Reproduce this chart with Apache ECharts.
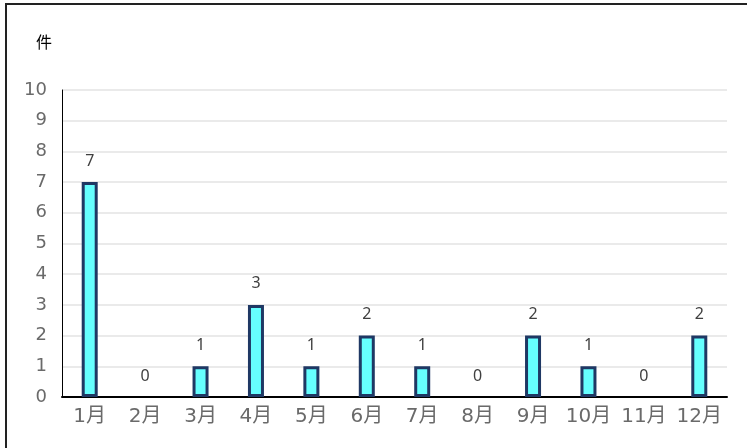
<!DOCTYPE html>
<html><head><meta charset="utf-8">
<script src="https://cdn.jsdelivr.net/npm/echarts@6/dist/echarts.min.js"></script>
<style>
html,body{margin:0;padding:0;background:#fff;}
#frame{position:absolute;left:5px;top:3px;width:760px;height:460px;border-left:2px solid #222;border-top:2px solid #222;box-sizing:border-box;}
#c{position:absolute;left:0;top:0;width:747px;height:448px;}
</style></head>
<body>
<div id="frame"></div>
<div id="c"></div>
<script>
const months = ['1月','2月','3月','4月','5月','6月','7月','8月','9月','10月','11月','12月'];
const counts = [7,0,1,3,1,2,1,0,2,1,0,2];
const yTicks = [0,1,2,3,4,5,6,7,8,9,10];
const unitLabel = '件';

const barData = counts.map(v => v === 0 ? {value:v, itemStyle:{borderWidth:0, color:'transparent'}} : v);
const axisFont = '"DejaVu Sans", "Noto Sans CJK JP", sans-serif';

const chart = echarts.init(document.getElementById('c'), null, {renderer:'canvas'});
chart.setOption({
  animation:false,
  backgroundColor:'transparent',
  title:{text:unitLabel,left:31,top:29,textStyle:{fontFamily:'Noto Sans CJK JP',fontSize:16,fontWeight:'normal',color:'#000'}},
  grid:{left:62,right:20,top:90,bottom:51,containLabel:false},
  xAxis:{type:'category',data:months,
    axisLine:{lineStyle:{color:'#000',width:2}},
    axisTick:{show:false},
    axisLabel:{interval:0,hideOverlap:false,fontFamily:axisFont,fontWeight:'normal',fontSize:20,color:'#6a6a6a',margin:10}},
  yAxis:{type:'value',min:yTicks[0],max:yTicks[yTicks.length-1],interval:1,
    axisLine:{show:true,lineStyle:{color:'#000',width:1}},
    axisTick:{show:false},
    splitLine:{lineStyle:{color:'#e3e3e3',width:1.5}},
    axisLabel:{fontFamily:axisFont,fontWeight:'normal',fontSize:18,color:'#6a6a6a',margin:15,padding:[3,0,0,0]}},
  series:[{type:'bar',data:barData,barWidth:16,
    itemStyle:{color:'#66FFFF',borderColor:'#1F3864',borderWidth:3},
    label:{show:true,position:'top',distance:13,fontFamily:'Noto Sans',fontSize:16,color:'#404040'}}]
});
</script>
</body></html>
